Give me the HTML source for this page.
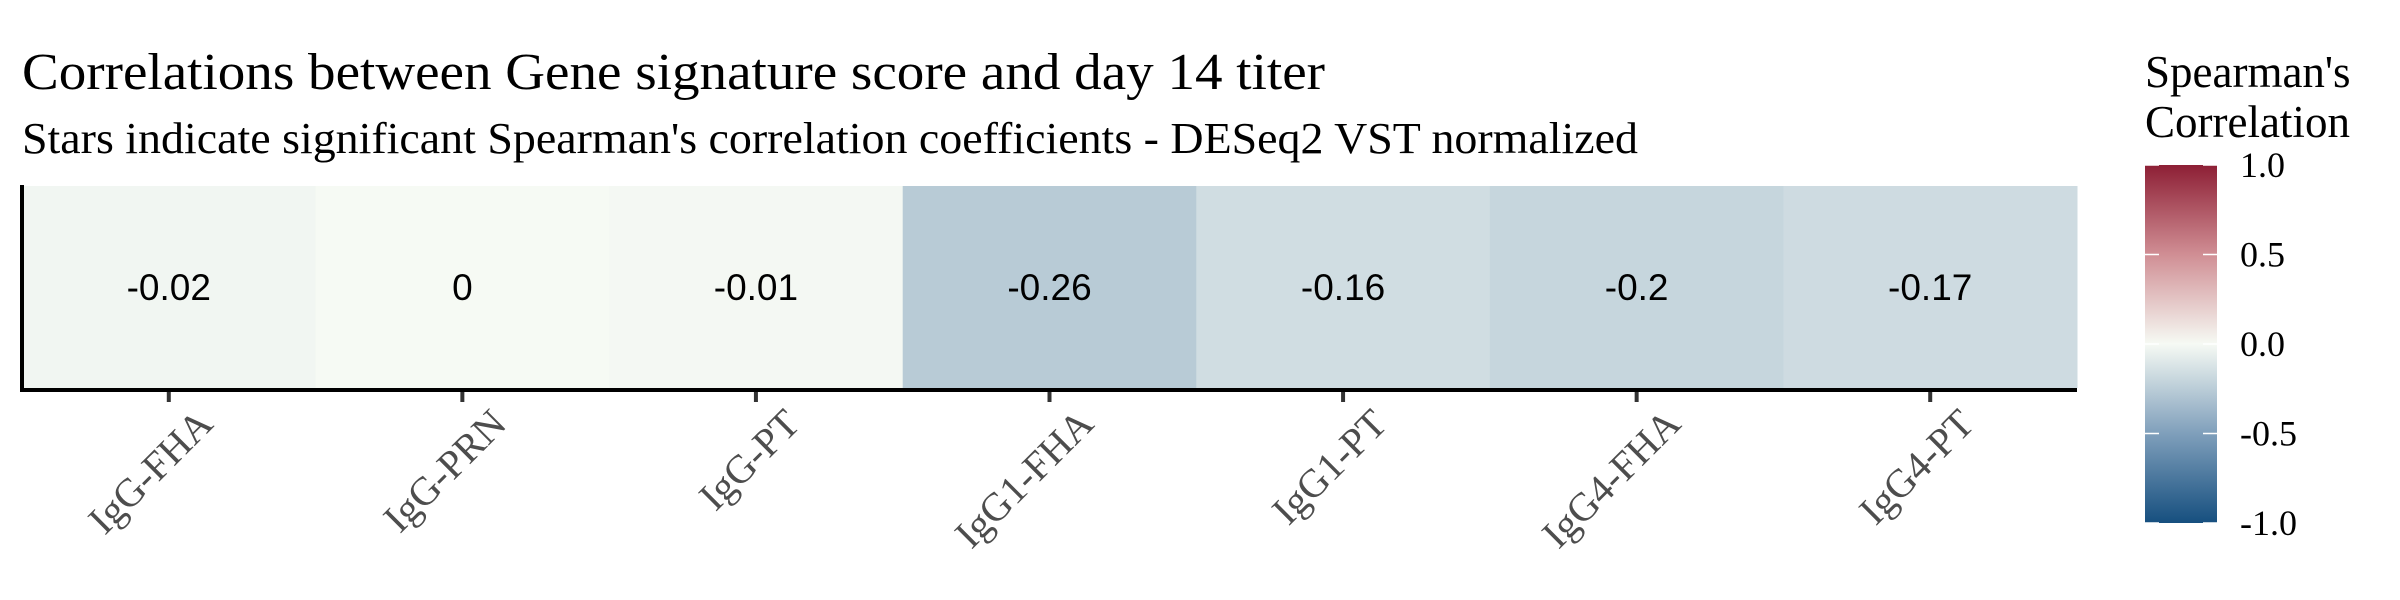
<!DOCTYPE html>
<html><head><meta charset="utf-8"><style>
html,body{margin:0;padding:0;background:#fff;}
svg{display:block;}
</style></head><body>
<svg id="chart" width="2400" height="600" xmlns="http://www.w3.org/2000/svg">
<defs>
<linearGradient id="cbar" x1="0" y1="1" x2="0" y2="0">
<stop offset="0" stop-color="#164f7f"/>
<stop offset="0.25" stop-color="#7f9fbb"/>
<stop offset="0.5" stop-color="#f6faf4"/>
<stop offset="0.75" stop-color="#d08e94"/>
<stop offset="1" stop-color="#8d1f35"/>
</linearGradient>
</defs>
<text x="22" y="89" font-family="Liberation Serif, serif" font-size="52" textLength="1303" lengthAdjust="spacingAndGlyphs" fill="#000">Correlations between Gene signature score and day 14 titer</text>
<text x="22" y="153" font-family="Liberation Serif, serif" font-size="44" textLength="1616" lengthAdjust="spacingAndGlyphs" fill="#000">Stars indicate significant Spearman's correlation coefficients - DESeq2 VST normalized</text>
<g id="cells"></g>
<g id="xaxis"></g>
<line x1="22" y1="185" x2="22" y2="392" stroke="#000" stroke-width="4"/>
<line x1="20" y1="390" x2="2077" y2="390" stroke="#000" stroke-width="4"/>
<g>
<text x="2145" y="87" font-family="Liberation Serif, serif" font-size="45">Spearman's</text>
<text x="2145" y="137" font-family="Liberation Serif, serif" font-size="45">Correlation</text>
<rect x="2145" y="165" width="72" height="358" fill="url(#cbar)"/>
<g id="legticks"></g>
</g>
</svg>
<script>
const categories = ["IgG-FHA","IgG-PRN","IgG-PT","IgG1-FHA","IgG1-PT","IgG4-FHA","IgG4-PT"];
const values = [-0.02, 0, -0.01, -0.26, -0.16, -0.2, -0.17];
const legendTicks = [1.0, 0.5, 0.0, -0.5, -1.0];
const legendLabels = ["1.0","0.5","0.0","-0.5","-1.0"];

const NS = "http://www.w3.org/2000/svg";
const plotL = 22, plotR = 2077, plotT = 186, plotB = 388;
const bw = (plotR - plotL) / categories.length;
function xPos(i){ return plotL + i * bw; }
const stops = [[-1,[22,79,127]],[-0.5,[127,159,187]],[0,[246,250,244]],[0.5,[208,142,148]],[1,[141,31,53]]];
function colorOf(v){
  for (let k=0;k<stops.length-1;k++){
    const a=stops[k], b=stops[k+1];
    if (v>=a[0] && v<=b[0]){
      const t=(v-a[0])/(b[0]-a[0]);
      const c=a[1].map((x,j)=>Math.round(x+(b[1][j]-x)*t));
      return "rgb("+c.join(",")+")";
    }
  }
  return "#fff";
}
const cells = document.getElementById("cells");
const xaxis = document.getElementById("xaxis");
categories.forEach((cat,i)=>{
  const r = document.createElementNS(NS,"rect");
  r.setAttribute("x", xPos(i)); r.setAttribute("y", plotT);
  r.setAttribute("width", bw+0.5); r.setAttribute("height", plotB-plotT);
  r.setAttribute("fill", colorOf(values[i]));
  
  
  cells.appendChild(r);
  const t = document.createElementNS(NS,"text");
  t.setAttribute("x", xPos(i)+bw/2); t.setAttribute("y", (plotT+plotB)/2+13);
  t.setAttribute("text-anchor","middle");
  t.setAttribute("font-family","Liberation Sans, sans-serif");
  t.setAttribute("font-size","37");
  t.textContent = String(values[i]);
  
  
  cells.appendChild(t);
  const cx = xPos(i)+bw/2;
  const tk = document.createElementNS(NS,"line");
  tk.setAttribute("x1",cx); tk.setAttribute("x2",cx);
  tk.setAttribute("y1",plotB); tk.setAttribute("y2",plotB+14);
  tk.setAttribute("stroke","#333"); tk.setAttribute("stroke-width","4");
  
  
  xaxis.appendChild(tk);
  const lb = document.createElementNS(NS,"text");
  lb.setAttribute("transform","translate("+(cx+46)+","+(plotB+38)+") rotate(-45)");
  lb.setAttribute("text-anchor","end");
  lb.setAttribute("font-family","Liberation Serif, serif");
  lb.setAttribute("font-size","40");
  lb.setAttribute("fill","#4d4d4d");
  lb.textContent = cat;
  
  
  xaxis.appendChild(lb);
});
const lt = document.getElementById("legticks");
const barT = 165, barB = 523;
function legY(v){ return barB - (v+1)/2*(barB-barT); }
legendTicks.forEach((v,i)=>{
  const y = legY(v);
  [[2145,2159],[2203,2217]].forEach(p=>{
    const l=document.createElementNS(NS,"line");
    l.setAttribute("x1",p[0]); l.setAttribute("x2",p[1]);
    l.setAttribute("y1",y); l.setAttribute("y2",y);
    l.setAttribute("stroke","#fff"); l.setAttribute("stroke-width","1.5");
    
    
    lt.appendChild(l);
  });
  const t=document.createElementNS(NS,"text");
  t.setAttribute("x",2240); t.setAttribute("y",y+12);
  t.setAttribute("font-family","Liberation Serif, serif");
  t.setAttribute("font-size","36");
  t.textContent = legendLabels[i];
  
  
  lt.appendChild(t);
});
</script>
</body></html>
